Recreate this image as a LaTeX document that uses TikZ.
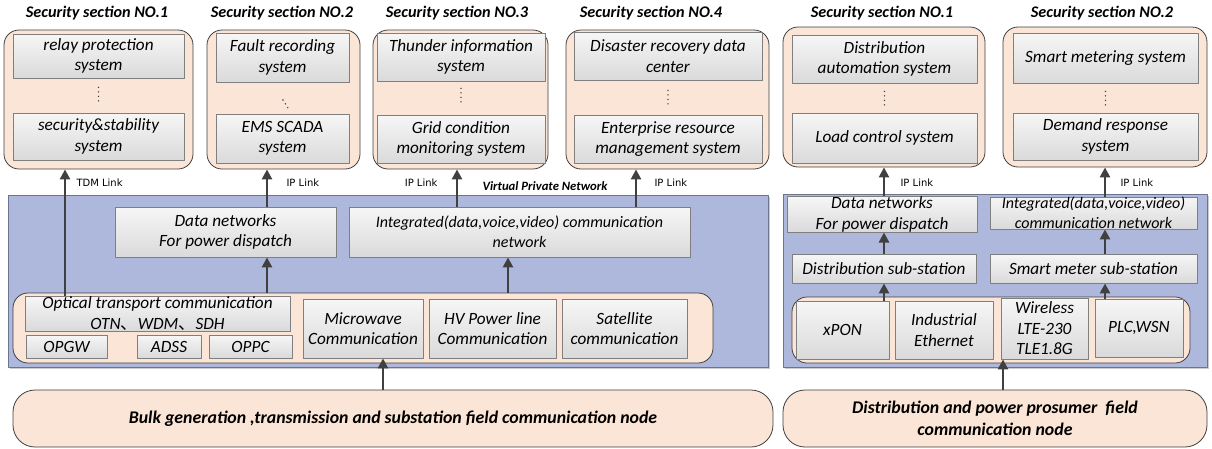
\documentclass[tikz,border=0pt]{standalone}
\usepackage{fontspec}
\setmainfont{Carlito}
\newfontfamily\labelfont{DejaVu Sans}
\newfontfamily\cjk{Noto Sans CJK SC}
\usetikzlibrary{arrows.meta,shadows}
\definecolor{peach}{HTML}{FBE5D6}
\definecolor{vpnblue}{HTML}{AEB8DC}
\definecolor{vpnedge}{HTML}{6B7590}
\definecolor{linkgray}{HTML}{404040}
\definecolor{boxedge}{HTML}{7F7F7F}
\definecolor{boxtop}{HTML}{F6F6F6}
\definecolor{boxbot}{HTML}{DADADA}
\begin{document}
\begin{tikzpicture}[x=1pt, y=-1pt, line join=round,
	sec/.style={draw=linkgray, fill=peach, rounded corners=15pt, line width=0.8pt, inner sep=0pt},
	field/.style={draw=linkgray, fill=peach, rounded corners=22pt, line width=0.8pt, inner sep=0pt, align=center,
		font=\fontsize{17.8}{22}\selectfont\bfseries\itshape},
	vpn/.style={draw=vpnedge, fill=vpnblue, line width=0.8pt, inner sep=0pt, drop shadow={shadow xshift=1.5pt, shadow yshift=-1.5pt, opacity=0.4}},
	sys/.style={draw=boxedge, top color=boxtop, bottom color=boxbot, line width=0.8pt, inner sep=0pt, align=center,
		font=\fontsize{17.2}{20.5}\selectfont\itshape, drop shadow={shadow xshift=1.2pt, shadow yshift=-1.2pt, opacity=0.35}},
	small/.style={font=\fontsize{16}{20}\selectfont\itshape},
	title/.style={font=\fontsize{16.2}{18}\selectfont\bfseries\itshape},
	link/.style={draw=linkgray, line width=2.6pt, -{Triangle[length=10pt, width=10pt]}},
	linklabel/.style={font=\labelfont\fontsize{10}{11}\selectfont},
	dots/.style={draw=linkgray, line width=1.6pt, line cap=round, dash pattern=on 0pt off 4.5pt}]
\useasboundingbox (0,0) rectangle (1212,448);

% security sections, left part
\node[title] at (97,13) {Security section NO.1};
\node[title] at (282,13) {Security section NO.2};
\node[title] at (457,13) {Security section NO.3};
\node[title] at (651,13) {Security section NO.4};
\node[sec, minimum width=189pt, minimum height=139pt] (secA) at (98.5,99.5) {};
\node[sec, minimum width=153pt, minimum height=139pt] (secB) at (283.5,99.5) {};
\node[sec, minimum width=175pt, minimum height=139pt] (secC) at (460.5,99.5) {};
\node[sec, minimum width=203pt, minimum height=139pt] (secD) at (667.5,99.5) {};
\node[sys, minimum width=171pt, minimum height=44pt] (relay) at (98.5,56) {relay protection\\system};
\node[sys, minimum width=171pt, minimum height=47pt] (stab) at (98.5,136.5) {security\&stability\\system};
\node[sys, minimum width=133pt, minimum height=49pt] (fault) at (282.5,57.5) {Fault recording\\system};
\node[sys, minimum width=133pt, minimum height=49pt] (ems) at (282.5,138.5) {EMS SCADA\\system};
\node[sys, minimum width=168pt, minimum height=48pt] (thunder) at (461,57) {Thunder information\\system};
\node[sys, minimum width=168pt, minimum height=48pt] (grid) at (461,139) {Grid condition\\monitoring system};
\node[sys, minimum width=188pt, minimum height=48pt] (disaster) at (668,56) {Disaster recovery data\\center};
\node[sys, minimum width=188pt, minimum height=48pt] (erp) at (668,139) {Enterprise resource\\management system};
\draw[dots] (relay.south) ++(0,9) -- ++(0,17);
\draw[dots] (283,100) -- (288,108);
\draw[dots] (thunder.south) ++(0,7) -- ++(0,18);
\draw[dots] (disaster.south) ++(0,10) -- ++(0,18);

% security sections, right part
\node[title] at (882,13) {Security section NO.1};
\node[title] at (1102,13) {Security section NO.2};
\node[sec, minimum width=202pt, minimum height=140pt] (secE) at (884,97) {};
\node[sec, minimum width=204pt, minimum height=140pt] (secF) at (1105,97) {};
\node[sys, minimum width=185pt, minimum height=48pt] (dauto) at (884.5,59) {Distribution\\automation system};
\node[sys, minimum width=185pt, minimum height=50pt] (load) at (884.5,138) {Load control system};
\node[sys, minimum width=185pt, minimum height=50pt] (meter) at (1105.5,58) {Smart metering system};
\node[sys, minimum width=185pt, minimum height=47pt] (demand) at (1105.5,136.5) {Demand response\\system};
\draw[dots] (dauto.south) ++(0,8) -- ++(0,18);
\draw[dots] (meter.south) ++(0,8) -- ++(0,18);

% bulk generation network
\node[vpn, minimum width=760pt, minimum height=172pt] (vpnL) at (388,281) {};
\node[sys, minimum width=221pt, minimum height=50pt] (dnL) at (225.5,232) {Data networks\\For power dispatch};
\node[sys, small, minimum width=341pt, minimum height=50pt] (inL) at (519.5,232) {Integrated(data,voice,video) communication\\network};
\node[sec, minimum width=700pt, minimum height=70pt] (lowL) at (363,328) {};
\node[sys, minimum width=265pt, minimum height=35pt] (optic) at (157.5,313.5) {Optical transport communication\\OTN{\cjk 、}WDM{\cjk 、}SDH};
\node[sys, minimum width=81pt, minimum height=23pt] (opgw) at (66.5,346.5) {OPGW};
\node[sys, minimum width=64pt, minimum height=23pt] (adss) at (169,346.5) {ADSS};
\node[sys, minimum width=83pt, minimum height=23pt] (oppc) at (250.5,346.5) {OPPC};
\node[sys, minimum width=120pt, minimum height=59pt] (micro) at (363,328.5) {Microwave\\Communication};
\node[sys, minimum width=127pt, minimum height=59pt] (hvplc) at (492.5,328.5) {HV Power line\\Communication};
\node[sys, minimum width=125pt, minimum height=59pt] (sat) at (624.5,328.5) {Satellite\\communication};
\node[field, minimum width=760pt, minimum height=57pt] (bulk) at (393,418.5) {Bulk generation ,transmission and substation field communication node};

% distribution network
\node[vpn, minimum width=424pt, minimum height=173pt] (vpnR) at (995,280.5) {};
\node[sys, minimum width=190pt, minimum height=35pt] (dnR) at (882,214.5) {Data networks\\For power dispatch};
\node[sys, small, minimum width=207pt, minimum height=32pt] (inR) at (1093.5,213) {Integrated(data,voice,video)\\communication network};
\node[sys, minimum width=184pt, minimum height=29pt] (dsub) at (884,268.5) {Distribution sub-station};
\node[sys, minimum width=207pt, minimum height=29pt] (msub) at (1093.5,268.5) {Smart meter sub-station};
\node[sec, minimum width=398pt, minimum height=66pt] (lowR) at (991,330) {};
\node[sys, minimum width=93pt, minimum height=58pt] (xpon) at (842.5,330) {xPON};
\node[sys, minimum width=98pt, minimum height=58pt] (ieth) at (944,330) {Industrial\\Ethernet};
\node[sys, minimum width=87pt, minimum height=61pt] (wless) at (1044.5,328.5) {Wireless\\LTE-230\\TLE1.8G};
\node[sys, minimum width=88pt, minimum height=58pt] (plc) at (1139,328) {PLC,WSN};
\node[field, minimum width=424pt, minimum height=57pt] (distr) at (995,418.5) {Distribution and power prosumer\ \ field\\communication node};

% links
\coordinate (tdmx) at (65,0);
\coordinate (ipb) at (267,0);
\coordinate (ipc) at (457,0);
\coordinate (ipd) at (636,0);
\coordinate (upx) at (508,0);
\coordinate (mwx) at (383,0);
\coordinate (ipe) at (884,0);
\coordinate (ipf) at (1105,0);
\coordinate (wlx) at (1003,0);
\draw[link] (optic.north -| tdmx) -- (secA.south -| tdmx);
\draw[link] (dnL.north -| ipb) -- (secB.south -| ipb);
\draw[link] (lowL.north -| ipb) -- (dnL.south -| ipb);
\draw[link] (inL.north -| ipc) -- (secC.south -| ipc);
\draw[link] (inL.north -| ipd) -- (secD.south -| ipd);
\draw[link] (lowL.north -| upx) -- (inL.south -| upx);
\draw[link] (bulk.north -| mwx) -- (micro.south -| mwx);
\draw[link] (xpon.north -| ipe) -- (dsub.south -| ipe);
\draw[link] (dsub.north -| ipe) -- (dnR.south -| ipe);
\draw[link] (dnR.north -| ipe) -- (secE.south -| ipe);
\draw[link] (plc.north -| ipf) -- (msub.south -| ipf);
\draw[link] (msub.north -| ipf) -- (inR.south -| ipf);
\draw[link] (inR.north -| ipf) -- (secF.south -| ipf);
\draw[link] (distr.north -| wlx) -- (wless.south -| wlx);
\node[linklabel, anchor=west] at (73,183) {TDM Link};
\node[linklabel, anchor=west] at (283,183) {IP Link};
\node[linklabel, anchor=east] at (441,183) {IP Link};
\node[linklabel, anchor=west] at (651,183) {IP Link};
\node[linklabel, anchor=west] at (897,183) {IP Link};
\node[linklabel, anchor=west] at (1117,183) {IP Link};
\node[font=\fontsize{12.7}{14}\selectfont\bfseries\itshape] at (545,186) {Virtual Private Network};
\end{tikzpicture}
\end{document}
